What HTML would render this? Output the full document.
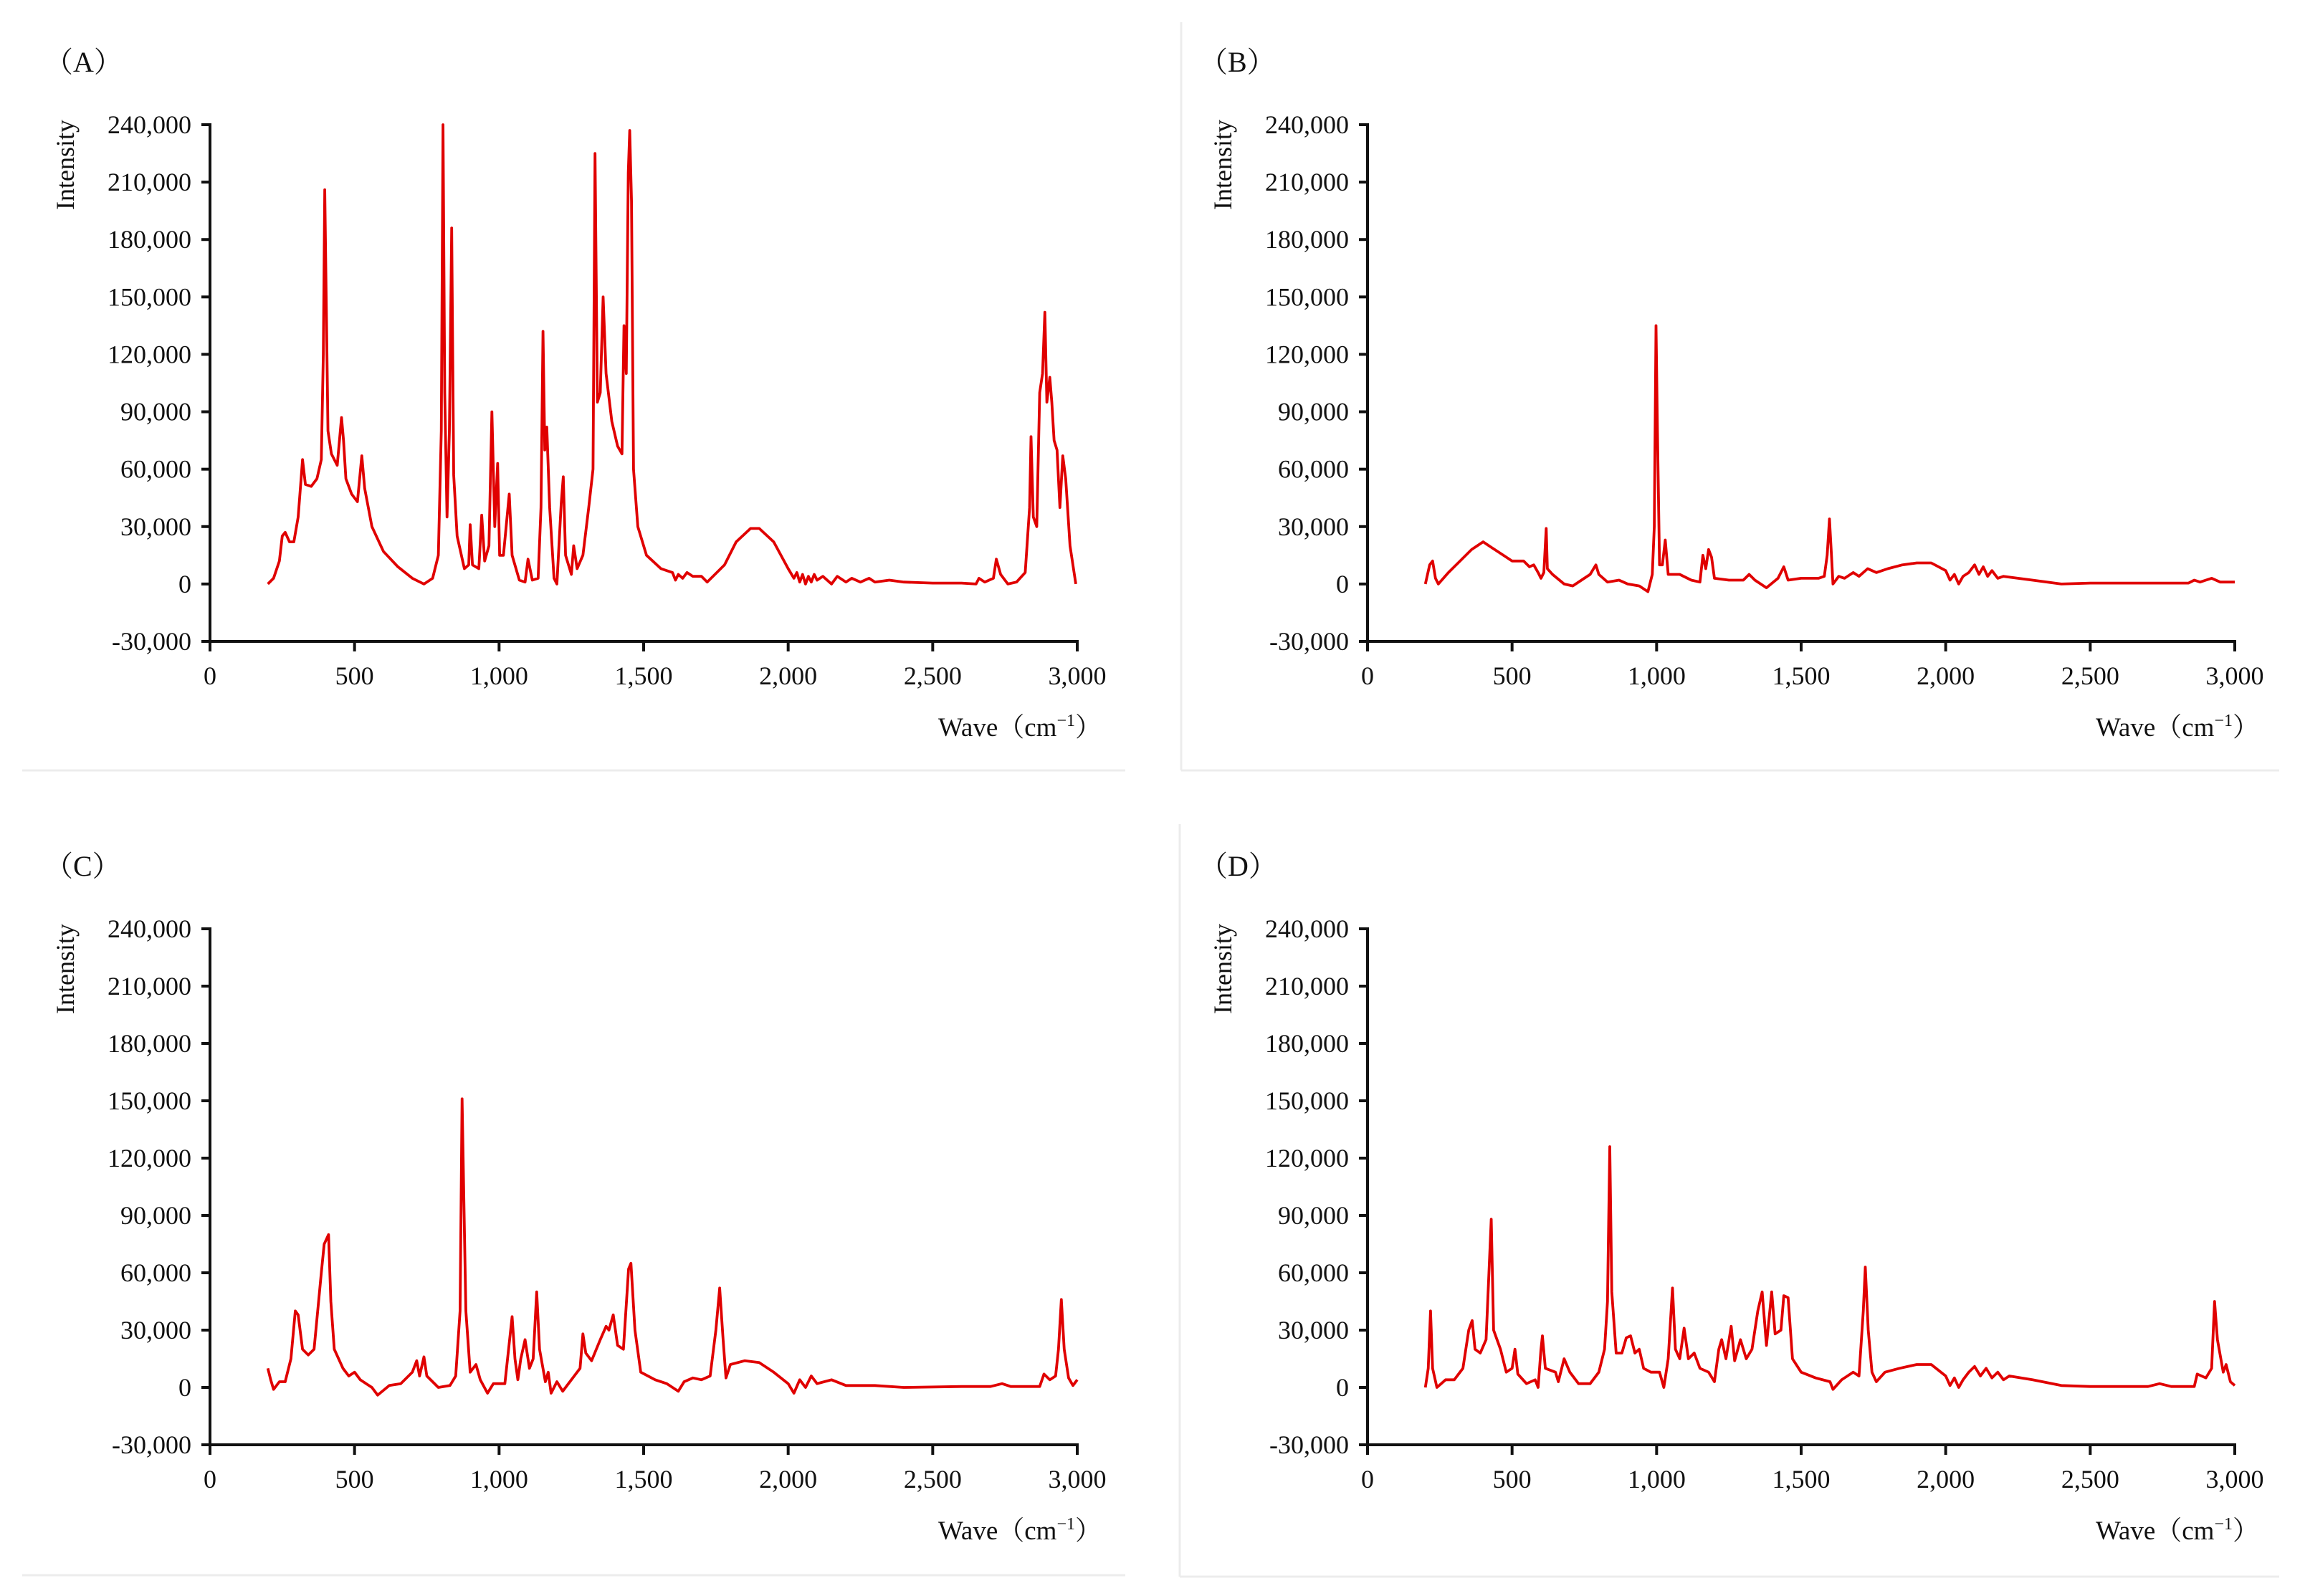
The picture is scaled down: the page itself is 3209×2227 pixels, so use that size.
<!DOCTYPE html>
<html><head><meta charset="utf-8"><style>
html,body{margin:0;padding:0;background:#fff;}
svg{display:block;}
text{font-family:"Liberation Serif","Noto Serif CJK SC",serif;fill:#111;}
</style></head><body>
<svg id="fig" width="3209" height="2227" viewBox="0 0 3209 2227" xmlns="http://www.w3.org/2000/svg">
<rect width="3209" height="2227" fill="#fff"/>
<g stroke="#ececec" stroke-width="3">
<line x1="31" y1="1075" x2="1570" y2="1075"/>
<line x1="1648" y1="31" x2="1648" y2="1075"/>
<line x1="1648" y1="1075" x2="3180" y2="1075"/>
<line x1="31" y1="2198" x2="1570" y2="2198"/>
<line x1="1646" y1="1150" x2="1646" y2="2200"/>
<line x1="1646" y1="2200" x2="3180" y2="2200"/>
</g>
</svg>
<script>
const yTicks = [240000,210000,180000,150000,120000,90000,60000,30000,0,-30000];
const xTicks = [0,500,1000,1500,2000,2500,3000];
const panelLabels = ["（A）","（B）","（C）","（D）"];

const waveA = [200,220,240,250,260,275,290,305,315,320,330,350,370,385,392,397,402,408,420,440,455,462,470,490,510,525,535,560,600,650,700,740,770,790,800,806,812,820,828,836,843,855,880,895,900,908,930,940,950,965,975,985,995,1002,1015,1035,1045,1070,1090,1100,1115,1135,1145,1152,1158,1165,1175,1190,1200,1215,1222,1230,1250,1258,1270,1290,1310,1325,1332,1340,1350,1360,1370,1390,1410,1425,1432,1440,1447,1452,1458,1465,1480,1510,1560,1600,1610,1620,1635,1650,1670,1700,1720,1740,1780,1820,1870,1900,1950,2000,2020,2030,2040,2050,2060,2070,2080,2090,2100,2120,2150,2170,2200,2220,2250,2280,2300,2350,2400,2500,2600,2650,2660,2680,2710,2720,2735,2760,2790,2820,2835,2840,2848,2860,2870,2880,2888,2895,2905,2912,2920,2930,2940,2950,2960,2975,2995];
const intA = [0,3,12,25,27,22,22,35,55,65,52,51,55,65,120,206,150,80,68,62,87,75,55,47,43,67,50,30,17,9,3,0,3,15,80,240,100,35,80,186,57,25,8,10,31,10,8,36,12,20,90,30,63,15,15,47,15,2,1,13,2,3,40,132,70,82,40,3,0,42,56,15,5,20,8,15,40,60,225,95,100,150,110,85,72,68,135,110,215,237,200,60,30,15,8,6,2,5,3,6,4,4,1,4,10,22,29,29,22,8,3,6,1,5,0,4,1,5,2,4,0,4,1,3,1,3,1,2,1,0.5,0.5,0,3,1,3,13,5,0,1,6,40,77,35,30,100,110,142,95,108,95,75,70,40,67,55,20,0];

const waveB = [200,215,225,235,245,280,320,360,400,430,470,500,540,560,575,590,600,610,618,622,640,680,710,740,770,790,800,830,870,900,940,970,985,992,998,1003,1010,1020,1030,1040,1080,1120,1150,1160,1170,1180,1190,1200,1250,1300,1320,1340,1380,1420,1440,1455,1500,1560,1580,1590,1598,1605,1610,1630,1650,1680,1700,1730,1760,1800,1850,1900,1950,2000,2015,2030,2045,2060,2080,2100,2115,2130,2145,2160,2180,2200,2250,2300,2400,2500,2700,2840,2860,2880,2900,2920,2950,3000];
const intB = [0,10,12,3,0,6,12,18,22,19,15,12,12,9,10,6,3,6,29,8,5,0,-1,2,5,10,5,1,2,0,-1,-4,5,30,135,80,10,10,23,5,5,2,1,15,8,18,14,3,2,2,5,2,-2,3,9,2,3,3,4,15,34,15,0,4,3,6,4,8,6,8,10,11,11,7,2,5,0,4,6,10,5,9,4,7,3,4,3,2,0,0.5,0.5,0.5,2,1,2,3,1,1];

const waveC = [200,210,220,240,260,280,295,305,320,340,360,385,395,410,418,430,460,480,500,520,540,560,580,620,660,700,715,725,740,750,790,830,850,865,872,878,885,900,920,935,960,980,1020,1045,1055,1065,1075,1090,1105,1118,1130,1140,1160,1170,1180,1200,1220,1240,1260,1280,1290,1300,1320,1350,1370,1380,1395,1410,1430,1448,1456,1470,1490,1540,1580,1620,1640,1670,1700,1730,1750,1763,1775,1785,1800,1850,1900,1950,2000,2020,2040,2060,2080,2100,2150,2200,2300,2400,2600,2700,2740,2770,2870,2885,2905,2925,2935,2945,2955,2970,2985,3000];
const intC = [10,4,-1,3,3,15,40,38,20,17,20,60,75,80,45,20,10,6,8,4,2,0,-4,1,2,8,14,6,16,6,0,1,6,40,151,100,40,8,12,4,-3,2,2,37,15,4,15,25,10,15,50,20,3,8,-3,3,-2,2,6,10,28,18,14,25,32,30,38,22,20,62,65,30,8,4,2,-2,3,5,4,6,30,52,25,5,12,14,13,8,2,-3,4,0,6,2,4,1,1,0,0.5,0.5,2,0.5,0.5,7,4,6,20,46,20,5,1,4];

const waveD = [200,210,218,225,240,270,300,330,350,362,372,390,410,420,428,436,460,480,500,510,520,550,580,590,600,605,615,650,660,680,700,730,770,800,820,830,838,845,860,880,895,910,925,940,955,980,1010,1025,1040,1055,1065,1080,1095,1110,1130,1150,1180,1200,1215,1225,1240,1258,1270,1290,1310,1330,1350,1365,1380,1398,1410,1430,1440,1455,1470,1500,1550,1600,1610,1640,1680,1700,1715,1722,1732,1745,1760,1790,1840,1900,1950,2000,2015,2030,2045,2060,2080,2100,2120,2140,2160,2180,2200,2220,2300,2400,2500,2700,2740,2780,2860,2870,2900,2920,2930,2940,2960,2970,2985,3000];
const intD = [0,10,40,10,0,4,4,10,30,35,20,18,25,60,88,30,20,8,10,20,7,2,4,0,20,27,10,8,3,15,8,2,2,8,20,45,126,50,18,18,26,27,18,20,10,8,8,0,15,52,20,15,31,15,18,10,8,3,20,25,15,32,14,25,15,20,40,50,22,50,28,30,48,47,15,8,5,3,-1,4,8,6,40,63,30,8,3,8,10,12,12,6,1,5,0,4,8,11,6,10,5,8,4,6,4,1,0.5,0.5,2,0.5,0.5,7,5,10,45,25,8,12,3,1];

const panels = [
 {id:"a", x0:293, x1:1503, yT:174, yB:895, lx:62,  ly:100, wave:waveA, val:intA},
 {id:"b", x0:1908,x1:3118, yT:174, yB:895, lx:1673,ly:100, wave:waveB, val:intB},
 {id:"c", x0:293, x1:1503, yT:1296,yB:2016,lx:62,  ly:1222,wave:waveC, val:intC},
 {id:"d", x0:1908,x1:3118, yT:1296,yB:2016,lx:1673,ly:1222,wave:waveD, val:intD}
];
const NS="http://www.w3.org/2000/svg";
const svg=document.getElementById("fig");
function mk(tag,attrs,parent){const e=document.createElementNS(NS,tag);for(const k in attrs)e.setAttribute(k,attrs[k]);parent.appendChild(e);return e;}

panels.forEach((p,i)=>{
  const sx=w=>p.x0+(w-0)/3000*(p.x1-p.x0);
  const sy=v=>p.yB-(v-(-30000))/270000*(p.yB-p.yT);
  const g=mk("g",{},svg);
  
  
  const lab=mk("text",{x:p.lx,y:p.ly,"font-size":40},g);
  lab.textContent=panelLabels[i];
  
  
  const yt=mk("text",{x:0,y:0,"font-size":36,"text-anchor":"middle",transform:`translate(${p.x0-190},${p.yT+56}) rotate(-90)`},g);
  yt.textContent="Intensity";
  
  
  const xt=mk("text",{x:p.x1+34,y:p.yB+132,"font-size":37,"text-anchor":"end"},g);
  xt.innerHTML='Wave（cm<tspan font-size="24" dy="-14">−1</tspan><tspan dy="14">）</tspan>';
  
  
  const ax=mk("g",{stroke:"#111","stroke-width":4},g);
  
  
  mk("line",{x1:p.x0,y1:p.yT-2,x2:p.x0,y2:p.yB+2},ax);
  mk("line",{x1:p.x0-2,y1:p.yB,x2:p.x1+2,y2:p.yB},ax);
  yTicks.forEach(v=>{
    mk("line",{x1:p.x0-12,y1:sy(v),x2:p.x0,y2:sy(v)},ax);
    const t=mk("text",{x:p.x0-26,y:sy(v)+12,"font-size":36,"text-anchor":"end"},g);
    t.textContent=v.toLocaleString("en-US");
    
    
  });
  xTicks.forEach(w=>{
    mk("line",{x1:sx(w),y1:p.yB,x2:sx(w),y2:p.yB+14},ax);
    const t=mk("text",{x:sx(w),y:p.yB+60,"font-size":36,"text-anchor":"middle"},g);
    t.textContent=w.toLocaleString("en-US");
    
    
  });
  const pts=p.wave.map((w,k)=>sx(w).toFixed(1)+","+sy(p.val[k]*1000).toFixed(1)).join(" ");
  const pl=mk("polyline",{points:pts,fill:"none",stroke:"#e00000","stroke-width":3.8,"stroke-linejoin":"round"},g);
  
  
});
</script>
</body></html>
